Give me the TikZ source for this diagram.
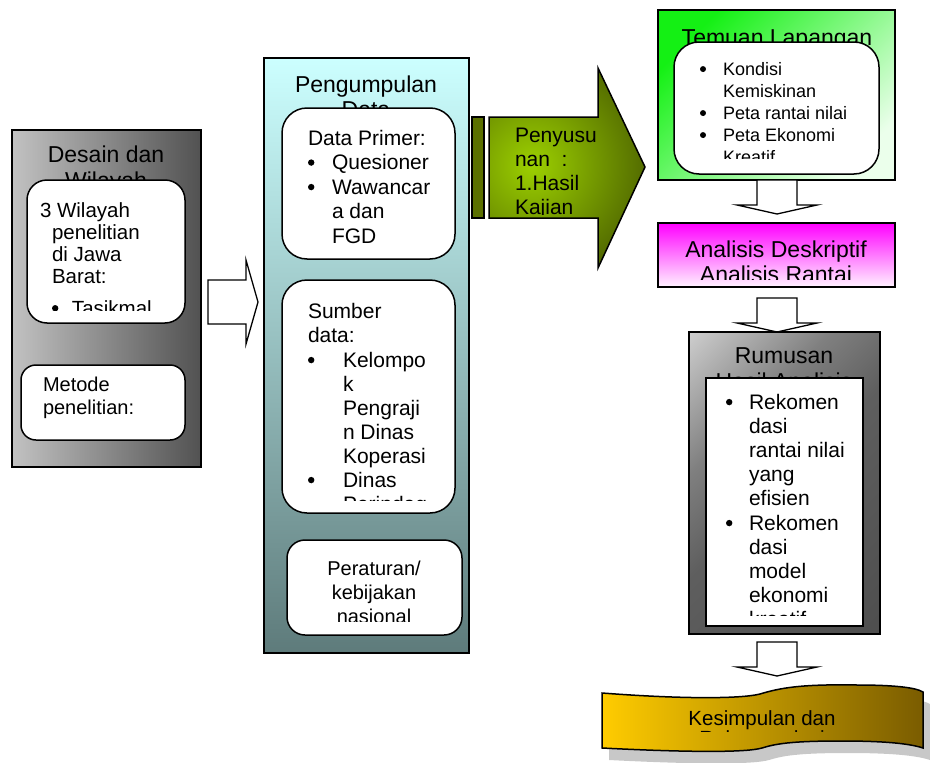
\documentclass[tikz,border=0pt]{standalone}
\usepackage{fontspec}
\setmainfont{Liberation Sans}
\newcommand\fs[2]{\fontsize{#1}{#2}\selectfont}
\newcommand\bl[2][3.2]{\makebox[#2][l]{\tikz[baseline=0pt]\fill (3.6pt,0.33em) circle (#1pt);}}
\definecolor{gdark}{HTML}{4A5F00}
\definecolor{gmid}{HTML}{9CD000}
\definecolor{gbarc}{HTML}{5B7000}
\definecolor{golda}{HTML}{FFCC00}
\definecolor{goldb}{HTML}{7A5C00}
\definecolor{shadowc}{HTML}{C8C8C8}
\pgfdeclarehorizontalshading{rumsh}{100bp}{color(0bp)=(black!20); color(15bp)=(black!20); color(35bp)=(black!50); color(50bp)=(black!63); color(100bp)=(black!72)}
\begin{document}
\begin{tikzpicture}[x=1pt,y=-1pt,
  bx/.style={draw=black,line width=1.5pt,inner sep=0pt,outer sep=0pt,anchor=north west},
  rbx/.style={bx,fill=white,rounded corners=#1},
  txt/.style={inner sep=0pt,outer sep=0pt,anchor=base west},
  ctxt/.style={inner sep=0pt,outer sep=0pt,anchor=base},
  hollow/.style={draw=black,line width=1.3pt,fill=white,line join=miter},
  dnarr/.pic={\draw[hollow] (-20,0) -- (20,0) -- (20,25) -- (40,25) -- (0,34) -- (-40,25) -- (-20,25) -- cycle;},
]
\useasboundingbox (0,0) rectangle (930,763);

% ---------- left column ----------
\node[bx,minimum width=189pt,minimum height=337pt,left color=black!24,right color=black!68] (left) at (12,130) {};
\node[ctxt] (tdesain) at (106,162) {\parbox[t]{185pt}{\centering\fs{23}{26}Desain dan\\Wilayah}};
\node[rbx=20pt,minimum width=158pt,minimum height=143pt] (lb1) at (27,180) {};
\begin{scope}
\clip (27,180) rectangle (185,310);
\node[txt] (tw) at (40,217) {\parbox[t]{145pt}{\fs{20.5}{22}3 Wilayah\\\hspace*{12pt}penelitian\\\hspace*{12pt}di Jawa\\\hspace*{12pt}Barat:\\[10pt]\hspace*{12pt}\bl{20pt}Tasikmal}};
\end{scope}
\node[rbx=15pt,minimum width=164pt,minimum height=75pt] (lb2) at (21,365) {};
\node[txt] (tm) at (43,391) {\parbox[t]{140pt}{\fs{20}{23}Metode\\penelitian:}};

\draw[hollow] (208,280) -- (246,280) -- (246,260) -- (258,302) -- (246,344) -- (246,324) -- (208,324) -- cycle;

% ---------- middle column ----------
\node[bx,minimum width=205pt,minimum height=595pt,top color=cyan!20,bottom color={rgb,255:red,94;green,123;blue,123}] (mid) at (264,58) {};
\node[ctxt] (tpeng) at (366,92) {\parbox[t]{200pt}{\centering\fs{23}{25}Pengumpulan\\Data}};
\node[rbx=25pt,minimum width=173pt,minimum height=151pt] (ma) at (282,108) {};
\node[txt] (tdp) at (308,145) {\parbox[t]{145pt}{\fs{21}{24.5}Data Primer:\\\bl{24pt}Quesioner\\\bl{24pt}Wawancar\\\hspace*{24pt}a dan\\\hspace*{24pt}FGD}};
\node[rbx=25pt,minimum width=173pt,minimum height=233pt] (mb) at (282,280) {};
\begin{scope}
\clip (282,280) rectangle (455,500);
\node[txt] (tsd) at (308,318) {\parbox[t]{145pt}{\fs{21}{24}Sumber\\data:\\[1pt]\bl{35pt}Kelompo\\\hspace*{35pt}k\\\hspace*{35pt}Pengraji\\\hspace*{35pt}n Dinas\\\hspace*{35pt}Koperasi\\\bl{35pt}Dinas\\\hspace*{35pt}Perindag}};
\end{scope}
\node[rbx=18pt,minimum width=175pt,minimum height=95pt] (mc) at (287,540) {};
\begin{scope}
\clip (287,540) rectangle (462,621);
\node[ctxt] (tper) at (374,575) {\parbox[t]{170pt}{\centering\fs{20}{24}Peraturan/\\kebijakan\\nasional}};
\end{scope}

% ---------- green arrow ----------
\node[bx,fill=gbarc,minimum width=12pt,minimum height=101pt] (gbar) at (472,117) {};
\begin{scope}
\clip (489,117) -- (598,117) -- (598,68) -- (645,167) -- (598,268) -- (598,218) -- (489,218) -- cycle;
\shade[inner color=gmid,outer color=gdark] (532,165) circle (128);
\end{scope}
\draw[line width=1.5pt,line join=miter] (489,117) -- (598,117) -- (598,68) -- (645,167) -- (598,268) -- (598,218) -- (489,218) -- cycle;
\begin{scope}
\clip (489,117) rectangle (598,214);
\node[txt] (tpen) at (515,142) {\parbox[t]{84pt}{\fs{21}{24}Penyusu\\nan~~:\\1.Hasil\\Kajian}};
\end{scope}

% ---------- right column ----------
\node[bx,minimum width=237pt,minimum height=170pt,left color={rgb,255:red,20;green,240;blue,20},right color=green!8,shading angle=45] (tr) at (658,10) {};
\node[ctxt] (ttemu) at (777,45) {\fs{23}{26}Temuan Lapangan};
\node[rbx=25pt,minimum width=205pt,minimum height=132pt] (tri) at (674,42) {};
\begin{scope}
\clip (674,42) rectangle (879,158);
\node[txt] (tkon) at (700,75) {\parbox[t]{175pt}{\fs{18}{22}\bl[3]{23pt}Kondisi\\\hspace*{23pt}Kemiskinan\\\bl[3]{23pt}Peta rantai nilai\\\bl[3]{23pt}Peta Ekonomi\\\hspace*{23pt}Kreatif}};
\end{scope}
\pic at (777,180) {dnarr};

\node[bx,minimum width=237pt,minimum height=64pt,top color=magenta,bottom color=magenta!5] (mag) at (658,223) {};
\begin{scope}
\clip (658,223) rectangle (895,279);
\node[ctxt] (tana) at (776,257) {\parbox[t]{230pt}{\centering\fs{23}{25}Analisis Deskriptif\\Analisis Rantai}};
\end{scope}
\pic at (777,298) {dnarr};

\node[bx,minimum width=191pt,minimum height=302pt,shading=rumsh,shading angle=-45] (rum) at (689,332) {};
\node[ctxt] (trum) at (784,363) {\parbox[t]{185pt}{\centering\fs{23}{26}Rumusan\\Hasil Analisis}};
\node[bx,fill=white,minimum width=157pt,minimum height=248pt] (rumi) at (706,378) {};
\begin{scope}
\clip (706,378) rectangle (863,615);
\node[txt] (trek) at (726,409) {\parbox[t]{135pt}{\fs{21}{24}\bl{23pt}Rekomen\\\hspace*{23pt}dasi\\\hspace*{23pt}rantai nilai\\\hspace*{23pt}yang\\\hspace*{23pt}efisien\\[1pt]\bl{23pt}Rekomen\\\hspace*{23pt}dasi\\\hspace*{23pt}model\\\hspace*{23pt}ekonomi\\\hspace*{23pt}kreatif}};
\end{scope}
\pic at (777,642) {dnarr};

% ---------- banner ----------
\fill[shadowc,shift={(7,12)}] (602,693) .. controls (680,699) and (740,699) .. (760,694) .. controls (780,688) and (800,684) .. (857,685) .. controls (890,685) and (915,687) .. (923,692) -- (923,748) .. controls (905,742) and (870,741) .. (840,741) .. controls (790,741) and (775,744) .. (762,748) .. controls (745,753) and (680,752) .. (602,748) -- cycle;
\draw[line width=1.5pt,left color=golda,right color=goldb] (602,693) .. controls (680,699) and (740,699) .. (760,694) .. controls (780,688) and (800,684) .. (857,685) .. controls (890,685) and (915,687) .. (923,692) -- (923,748) .. controls (905,742) and (870,741) .. (840,741) .. controls (790,741) and (775,744) .. (762,748) .. controls (745,753) and (680,752) .. (602,748) -- cycle;
\begin{scope}
\clip (602,680) rectangle (923,731);
\node[ctxt] (tkes) at (762,725) {\parbox[t]{300pt}{\centering\fs{20.5}{18}Kesimpulan dan\\Rekomendasi}};
\end{scope}
\end{tikzpicture}
\end{document}
